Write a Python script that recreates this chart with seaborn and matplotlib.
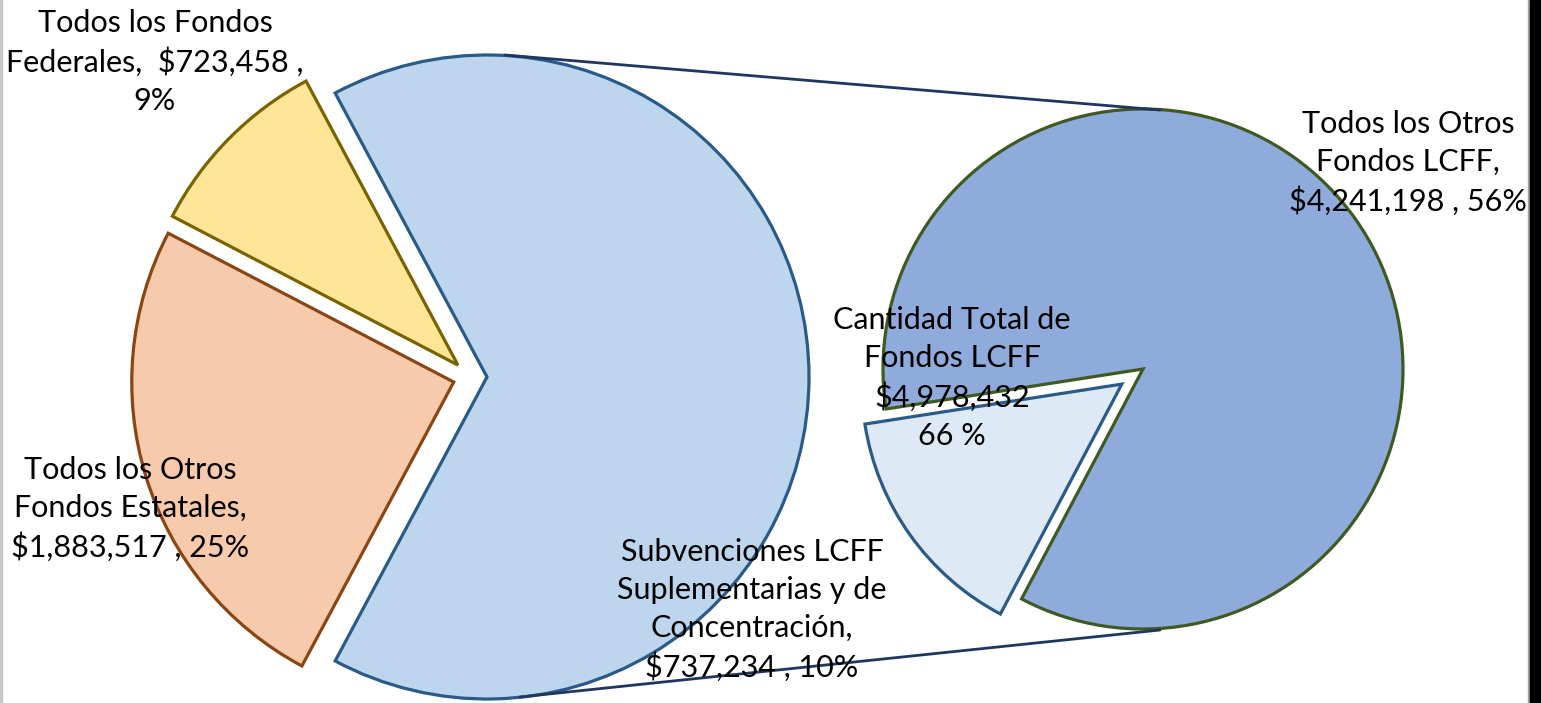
import numpy as np
import matplotlib
matplotlib.use("Agg")
import matplotlib.pyplot as plt
from matplotlib.patches import Rectangle
import seaborn as sns

sns.set_theme(style="white")
plt.rcParams['font.family'] = ['Lato', 'DejaVu Sans']

# main pie: LCFF total, federal, other state
main_names = ['Cantidad Total de\nFondos LCFF', 'Todos los Fondos\nFederales, ', 'Todos los Otros\nFondos Estatales,']
main_values = [4978432, 723458, 1883517]
main_pcts = ['66 %', '9%', '25%']
main_colors = ['#BDD5ED', '#FFE597', '#F7CAAC']
main_edges = ['#2A5A87', '#7A6200', '#8A4512']

# secondary pie: split of LCFF
sub_names = ['Todos los Otros\nFondos LCFF,', 'Subvenciones LCFF\nSuplementarias y de\nConcentración,']
sub_values = [4241198, 737234]
sub_pcts = ['56%', '10%']
sub_colors = ['#8FABDB', '#DDEAF6']
sub_edges = ['#3E5A22', '#2A5A87']

total = sum(main_values)

fig = plt.figure(figsize=(15.41, 7.03), dpi=100)
ax = fig.add_axes([0, 0, 1, 1])

# left pie
start_main = -360 * main_values[0] / total / 2
ax.pie(main_values, colors=main_colors, center=(470, 326), radius=322,
       startangle=start_main, counterclock=True, explode=[17, 17, 17],
       wedgeprops=dict(linewidth=2.3))
for w, ec in zip(ax.patches, main_edges):
    w.set_edgecolor(ec)
n0 = len(ax.patches)

# right pie
frac_sub = sub_values[1] / sum(sub_values)
mid_sub = 215.5
start_sub = mid_sub + 360 * frac_sub / 2
ax.pie(sub_values, colors=sub_colors, center=(1143, 334), radius=260,
       startangle=start_sub, counterclock=True, explode=[0, 26],
       wedgeprops=dict(linewidth=2.3))
for w, ec in zip(ax.patches[n0:], sub_edges):
    w.set_edgecolor(ec)

ax.set_xlim(0, 1541)
ax.set_ylim(0, 703)
ax.set_aspect('equal')
ax.axis('off')

# connector lines
ax.plot([505, 1160], [648, 593], color='#1F3760', lw=2, zorder=5)
ax.plot([520, 1160], [6, 73], color='#1F3760', lw=2, zorder=5)

def money(v):
    return '${:,}'.format(v)

txt = dict(ha='center', va='center', fontsize=22, linespacing=1.42,
           color='black', zorder=6)
ax.text(155, 641, main_names[1] + ' ' + money(main_values[1]) + ' ,\n' + main_pcts[1], **txt)
ax.text(130, 194, main_names[2] + '\n' + money(main_values[2]) + ' , ' + main_pcts[2], **txt)
ax.text(952, 325, main_names[0] + '\n' + money(main_values[0]) + '\n' + main_pcts[0], **txt)
ax.text(1408, 540, sub_names[0] + '\n' + money(sub_values[0]) + ' , ' + sub_pcts[0], **txt)
ax.text(752, 93, sub_names[1] + '\n' + money(sub_values[1]) + ' , ' + sub_pcts[1], **txt)

# frame edges seen in the original
fig.patches.append(Rectangle((0, 0), 1.5 / 1541, 1, transform=fig.transFigure,
                             color='#C8C8C8', zorder=10))
fig.patches.append(Rectangle((1528 / 1541, 0), 1.5 / 1541, 1, transform=fig.transFigure,
                             color='#A0A0A0', zorder=10))
fig.patches.append(Rectangle((1530 / 1541, 0), 11 / 1541, 1, transform=fig.transFigure,
                             color='black', zorder=10))

fig.savefig('out.png', dpi=100)
